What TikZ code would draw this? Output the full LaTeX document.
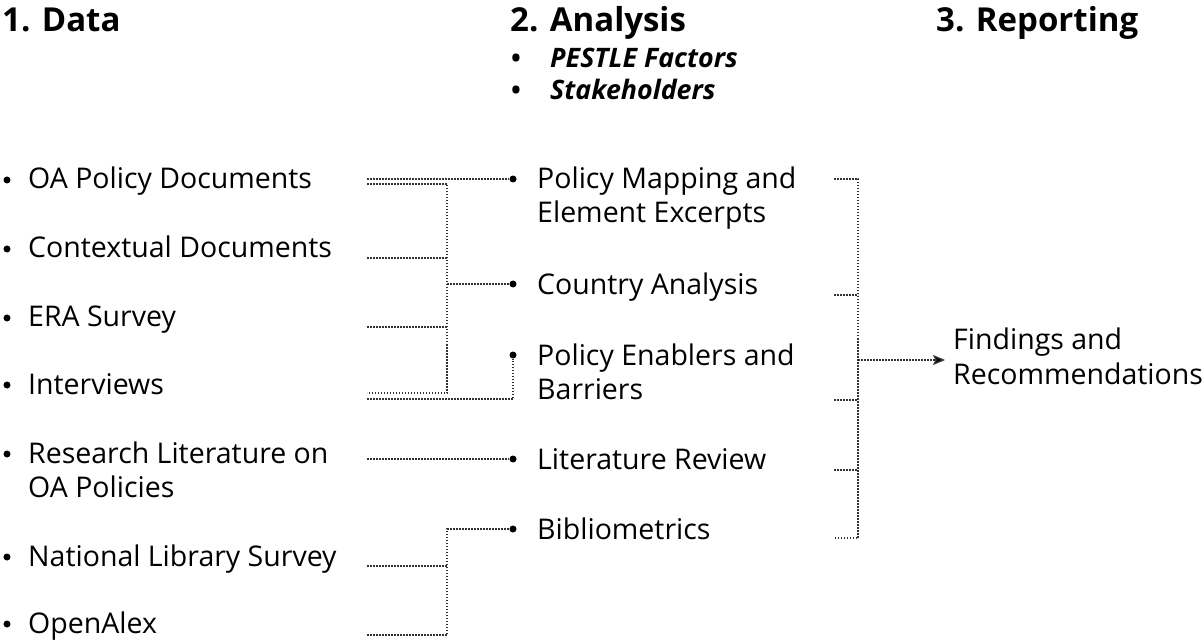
\documentclass[tikz,border=0pt]{standalone}
\usepackage{fontspec}
\setmainfont{Open Sans}
\usetikzlibrary{arrows.meta}
\definecolor{linegray}{HTML}{333333}
\tikzset{
  head/.style={anchor=base west, inner sep=0pt, font=\fontsize{33bp}{38bp}\selectfont\bfseries},
  subitem/.style={anchor=base west, inner sep=0pt, font=\fontsize{26.8bp}{32bp}\selectfont\bfseries\itshape},
  subdot/.style={anchor=base, inner sep=0pt, font=\fontsize{26bp}{32bp}\selectfont\bfseries},
  item/.style={anchor=base west, inner sep=0pt, align=left, font=\fontsize{28.5bp}{34bp}\selectfont},
  dot/.style={circle, fill=black, inner sep=0pt, minimum size=7bp},
  dotline/.style={draw=linegray, line width=1.3bp, dash pattern=on 1.5bp off 1.5bp},
}
\begin{document}
\begin{tikzpicture}[x=1bp,y=-1bp]
\useasboundingbox (0,0) rectangle (1203,641);
% headings
\node[head] (h1) at (2,32) {1. Data};
\node[head] (h2) at (510,32) {2. Analysis};
\node[head] (h3) at (936,32) {3. Reporting};
\node[subdot] (hb1) at (516,68) {•};
\node[subitem] (hs1) at (550,68) {PESTLE Factors};
\node[subdot] (hb2) at (516,100) {•};
\node[subitem] (hs2) at (550,100) {Stakeholders};
% data column (base = baseline of last line)
\node[dot] (bd1) at (7,180) {};
\node[item] (d1) at (28,189) {OA Policy Documents};
\node[dot] (bd2) at (7,249) {};
\node[item] (d2) at (28,258) {Contextual Documents};
\node[dot] (bd3) at (7,318) {};
\node[item] (d3) at (28,327) {ERA Survey};
\node[dot] (bd4) at (7,385) {};
\node[item] (d4) at (28,394) {Interviews};
\node[dot] (bd5) at (7,454) {};
\node[item] (d5) at (28,497) {Research Literature on\\OA Policies};
\node[dot] (bd6) at (7,557) {};
\node[item] (d6) at (28,566) {National Library Survey};
\node[dot] (bd7) at (7,624) {};
\node[item] (d7) at (28,633) {OpenAlex};
% analysis column
\node[dot] (ba1) at (513,179) {};
\node[item] (a1) at (537,222.5) {Policy Mapping and\\Element Excerpts};
\node[dot] (ba2) at (513,284) {};
\node[item] (a2) at (537,295) {Country Analysis};
\node[dot] (ba3) at (513,355) {};
\node[item] (a3) at (537,399) {Policy Enablers and\\Barriers};
\node[dot] (ba4) at (513,459) {};
\node[item] (a4) at (537,469.5) {Literature Review};
\node[dot] (ba5) at (513,529) {};
\node[item] (a5) at (537,539.5) {Bibliometrics};
% reporting
\node[item] (f) at (953,384) {Findings and\\Recommendations};
% left connector ends
\coordinate (s1a) at (367,179);
\coordinate (s1b) at (367,184);
\coordinate (s2) at (367,258);
\coordinate (s3) at (367,327);
\coordinate (s4a) at (367,393);
\coordinate (s4b) at (367,399);
\coordinate (s5) at (367,459);
\coordinate (s6) at (367,566);
\coordinate (s7) at (367,635);
\coordinate (tkA) at (447,184);
\coordinate (tkB) at (447,393);
\coordinate (tkC) at (447,529);
\coordinate (tkD) at (447,635);
% left connectors
\draw[dotline] (s1a) -- (ba1);
\draw[dotline] (s1b) -- (tkA) -- (tkB) -- (s4a);
\draw[dotline] (s2) -- (s2 -| tkA);
\draw[dotline] (s3) -- (s3 -| tkA);
\draw[dotline] (ba2 -| tkA) -- (ba2);
\draw[dotline] (s4b) -| (ba3);
\draw[dotline] (s5) -- (ba4);
\draw[dotline] (s7) -- (tkD) -- (tkC) -- (ba5);
\draw[dotline] (s6) -- (s6 -| tkC);
% right connectors
\coordinate (r1) at (834,179);
\coordinate (r2) at (834,295);
\coordinate (r3) at (834,400);
\coordinate (r4) at (834,470);
\coordinate (r5) at (834,538);
\coordinate (rt1) at (858,179);
\coordinate (rt5) at (858,538);
\coordinate (jr) at (858,360);
\draw[dotline] (r1) -- (rt1) -- (rt5) -- (r5);
\draw[dotline] (r2) -- (r2 -| rt1);
\draw[dotline] (r3) -- (r3 -| rt1);
\draw[dotline] (r4) -- (r4 -| rt1);
\draw[dotline, -{Stealth[length=12bp,width=10bp,inset=2.5bp,fill=black]}, shorten >=8bp] (jr) -- (jr -| f.west);
\end{tikzpicture}
\end{document}
